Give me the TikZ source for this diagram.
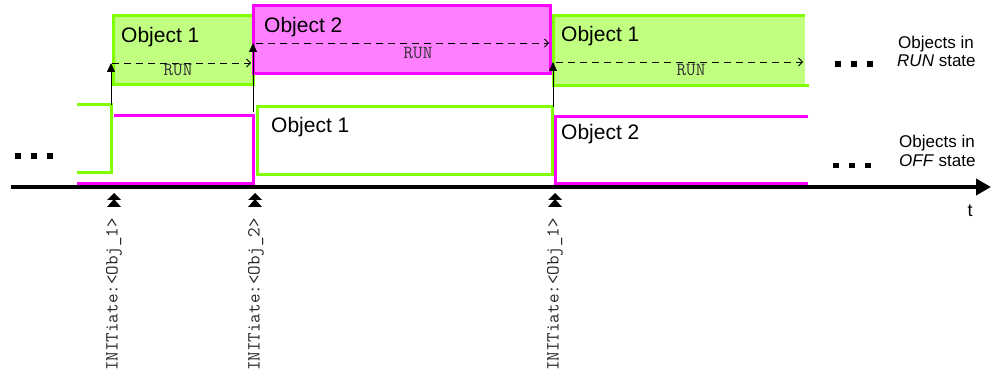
\documentclass[tikz,border=0pt]{standalone}
\usepackage{fontspec}
\setmainfont{Liberation Sans}
\usetikzlibrary{arrows.meta}
\definecolor{lgreen}{HTML}{80FF00}
\definecolor{pgreen}{HTML}{C0FF80}
\definecolor{mag}{HTML}{FF00FF}
\definecolor{pmag}{HTML}{FF80FF}
\begin{document}
\begin{tikzpicture}[x=1pt,y=-1pt,
  gline/.style={draw=lgreen,line width=3pt},
  mline/.style={draw=mag,line width=3pt},
  gbox/.style={rectangle,inner sep=0pt,gline,fill=pgreen},
  mbox/.style={rectangle,inner sep=0pt,mline,fill=pmag},
  wgbox/.style={rectangle,inner sep=0pt,gline,fill=white},
  objtxt/.style={inner sep=0pt,anchor=base west,font=\fontsize{21}{25}\selectfont},
  runtxt/.style={inner sep=0pt,anchor=base,font=\ttfamily\fontsize{18.5}{20}\selectfont,text=black!80},
  sidetxt/.style={inner sep=0pt,anchor=base west,font=\fontsize{17}{19}\selectfont},
  initxt/.style={inner sep=0pt,rotate=90,anchor=east,font=\ttfamily\fontsize{18.5}{20}\selectfont,text=black!85},
  uparrow/.style={draw,line width=0.8pt,-{Triangle[length=9pt,width=8pt]}},
  dasharrow/.style={draw,line width=0.8pt,dash pattern=on 7pt off 5pt,-{Straight Barb[length=4pt,width=8pt]}},
  dtri/.pic={\fill (-7,7)--(0,0)--(7,7)--cycle; \fill (-7,14)--(0,6)--(7,14)--cycle;}
]
\useasboundingbox[fill=white] (0,0) rectangle (992,379);

% ---------- RUN state row ----------
\node[gbox,minimum width=140pt,minimum height=69pt] (run1) at (183,50.5) {};
\node[mbox,minimum width=297pt,minimum height=68pt] (run2) at (401.5,40) {};
\fill[pgreen] (553,16) rectangle (805,86);
\draw[gline] (805,16) -| (553,86) -- (809,86);

\node[objtxt] (o1) at (121,43) {Object 1};
\node[objtxt] (o2) at (264,33) {Object 2};
\node[objtxt] (o3) at (561,42) {Object 1};

\coordinate (d1s) at (112,63);  \coordinate (d1e) at (251,63);
\coordinate (d2s) at (256,43);  \coordinate (d2e) at (549,43);
\coordinate (d3s) at (556,62);  \coordinate (d3e) at (803,62);
\draw[dasharrow] (d1s) -- (d1e);
\draw[dasharrow] (d2s) -- (d2e);
\draw[dasharrow] (d3s) -- (d3e);
\node[runtxt] (r1) at (178,76) {RUN};
\node[runtxt] (r2) at (418,59) {RUN};
\node[runtxt] (r3) at (691,76) {RUN};

% ---------- OFF state row ----------
\draw[gline] (77,105) -| (111,173) -- (77,173);
\draw[mline] (114,116) -| (253,183.5) -- (77,183.5);
\node[wgbox,minimum width=295pt,minimum height=68pt] (off1) at (404.5,140.5) {};
\draw[mline] (808,117) -| (555,183.5) -- (808,183.5);
\node[objtxt] (o4) at (271,133) {Object 1};
\node[objtxt] (o5) at (561,140) {Object 2};

% ---------- vertical transition arrows ----------
\coordinate (a1s) at (111,105); \coordinate (a1e) at (111,63);
\coordinate (a2s) at (253,112); \coordinate (a2e) at (253,43);
\coordinate (a3s) at (553,107); \coordinate (a3e) at (553,62);
\draw[uparrow] (a1s) -- (a1e);
\draw[uparrow] (a2s) -- (a2e);
\draw[uparrow] (a3s) -- (a3e);

% ---------- time axis ----------
\coordinate (axs) at (11,187);
\coordinate (axe) at (991,187);
\draw[line width=4pt,-{Triangle[length=15pt,width=16pt]}] (axs) -- (axe);
\node[inner sep=0pt,anchor=base,font=\fontsize{18}{20}\selectfont] (t) at (970,217) {t};

% ---------- INITiate events ----------
\pic at (114,193) {dtri};
\pic at (255,193) {dtri};
\pic at (555,193) {dtri};
\node[initxt] (i1) at (114,218) {INITiate:<Obj\_1>};
\node[initxt] (i2) at (256,218) {INITiate:<Obj\_2>};
\node[initxt] (i3) at (555,218) {INITiate:<Obj\_1>};

% ---------- ellipses ----------
\foreach \x in {15,31,47} \fill (\x,153) rectangle ++(6,6);
\foreach \x in {835,851,867} \fill (\x,61.5) rectangle ++(5.5,5.5);
\foreach \x in {833,849,865} \fill (\x,163) rectangle ++(5.5,5.5);

% ---------- side labels ----------
\node[sidetxt] (s1) at (898,49) {Objects in};
\node[sidetxt] (s2) at (897,67) {\textit{RUN} state};
\node[sidetxt] (s3) at (899,148) {Objects in};
\node[sidetxt] (s4) at (899,167) {\textit{OFF} state};
\end{tikzpicture}
\end{document}
